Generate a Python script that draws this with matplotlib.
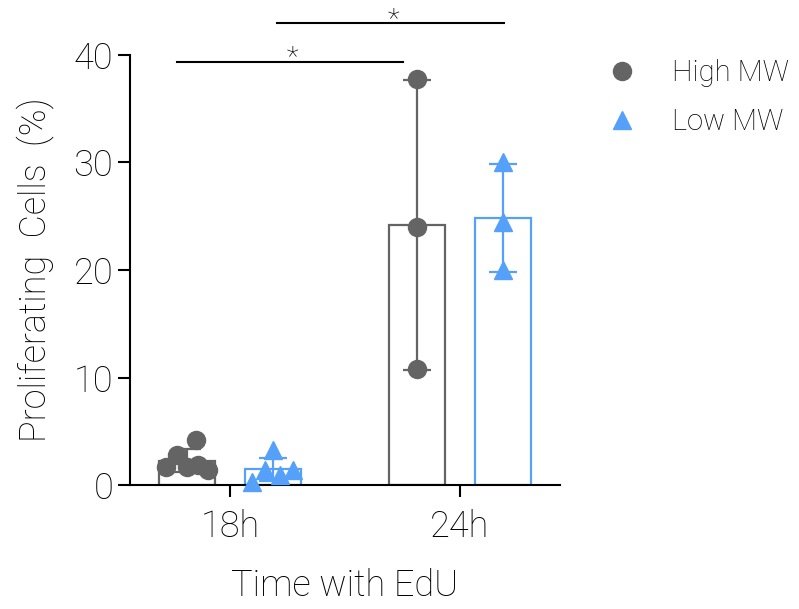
import matplotlib.pyplot as plt
import numpy as np

plt.rcParams['font.family'] = ['Roboto', 'DejaVu Sans']
plt.rcParams['font.weight'] = 'light'
plt.rcParams['axes.labelweight'] = 'light'

groups = ['18h', '24h']
series = ['High MW', 'Low MW']
colors = ['#646464', '#55A0F8']
markers = ['o', '^']

# individual replicate values (%)
high_18 = [4.2, 2.8, 1.7, 1.7, 1.85, 1.4]
low_18 = [3.25, 1.4, 0.9, 1.4, 0.3]
high_24 = [37.8, 24.0, 10.8]
low_24 = [30.0, 24.5, 20.0]

# horizontal jitter of the dots inside each bar
jit_high_18 = [0.04, -0.045, -0.09, 0.0, 0.05, 0.09]
jit_low_18 = [0.0, -0.035, 0.03, 0.085, -0.09]

fig = plt.figure(figsize=(7.99, 6.09), dpi=100)
ax = fig.add_axes([0.1627, 0.2036, 0.538, 0.7061])

data = [[high_18, high_24], [low_18, low_24]]
jit = [[jit_high_18, None], [jit_low_18, None]]
off = [-0.187, 0.187]
width = 0.245

for s in range(2):
    for g in range(2):
        vals = np.array(data[s][g])
        x = g + off[s]
        m = vals.mean()
        sd = vals.std(ddof=1)
        ax.bar(x, m, width=width, facecolor='white', edgecolor=colors[s],
               linewidth=1.6, zorder=1)
        ax.errorbar(x, m, yerr=sd, color=colors[s], capsize=10, elinewidth=1.6,
                    capthick=1.6, zorder=2)
        j = jit[s][g] if jit[s][g] is not None else [0] * len(vals)
        ax.plot(x + np.array(j), vals, linestyle='none', marker=markers[s],
                markersize=13, color=colors[s], zorder=3, clip_on=False,
                label=series[s] if g == 0 else None)

# significance brackets
ax.plot([-0.23, 0.752], [39.35, 39.35], color='black', lw=1.5, clip_on=False)
ax.text(0.27, 39.75, '*', ha='center', va='center', fontsize=20, color='black')
ax.plot([0.204, 1.191], [43.0, 43.0], color='black', lw=1.5, clip_on=False)
ax.text(0.709, 43.3, '*', ha='center', va='center', fontsize=20, color='black')

ax.set_xlim(-0.435, 1.435)
ax.set_ylim(0, 40)
ax.set_yticks([0, 10, 20, 30, 40])
ax.set_xticks([0, 1], labels=groups)
ax.spines[['top', 'right']].set_visible(False)
for sp in ['left', 'bottom']:
    ax.spines[sp].set_linewidth(1.5)
ax.tick_params(width=1.5, length=8.5, labelsize=26, labelcolor='black')
ax.tick_params(axis='x', pad=9)
ax.set_xlabel('Time with EdU', fontsize=26, labelpad=16)
ax.set_ylabel('Proliferating  Cells  (%)', fontsize=26, labelpad=14)

ax.legend(frameon=False, loc='upper left', bbox_to_anchor=(1.015, 1.051),
          fontsize=21, handletextpad=0.72, labelspacing=0.7, markerscale=1.0)

plt.savefig('out.png', dpi=100)
plt.close('all')
